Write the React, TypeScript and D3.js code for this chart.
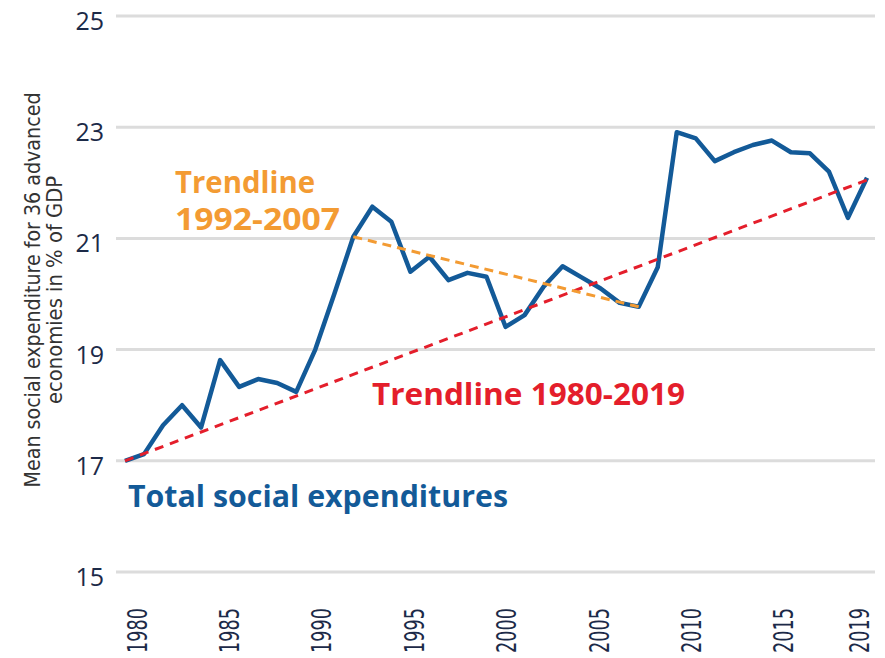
import React from "react";
import * as d3 from "d3";

const years: number[] = d3.range(1980, 2020);
const totalSocial: number[] = [
  17.0, 17.12, 17.64, 18.0, 17.6, 18.81, 18.33, 18.47, 18.4, 18.24,
  19.0, 20.0, 21.03, 21.57, 21.3, 20.4, 20.67, 20.25, 20.38, 20.31,
  19.41, 19.62, 20.13, 20.5, 20.3, 20.1, 19.84, 19.77, 20.48, 22.91,
  22.8, 22.39, 22.55, 22.68, 22.76, 22.55, 22.53, 22.2, 21.37, 22.09,
];
const trendYears1980: number[] = [1980, 2019];
const trendValues1980: number[] = [17.0, 22.05];
const trendYears1992: number[] = [1992, 2007];
const trendValues1992: number[] = [21.03, 19.77];
const yTicks: number[] = [15, 17, 19, 21, 23, 25];
const xTickYears: number[] = [1980, 1985, 1990, 1995, 2000, 2005, 2010, 2015, 2019];
const yTitleLines: string[] = [
  "Mean social expenditure for 36 advanced",
  "economies  in % of GDP",
];

const BLUE = "#135a98";
const RED = "#e41e2b";
const ORANGE = "#f39b33";
const NAVY = "#1c2a48";

export default function App() {
  const W = 885;
  const H = 658;
  const x = d3.scaleLinear().domain([1980, 2019]).range([125, 867]);
  const xLabel = d3.scaleLinear().domain([1980, 2015]).range([137, 783.5]);
  const y = d3.scaleLinear().domain([15, 25]).range([572, 16]);

  const line = d3
    .line<[number, number]>()
    .x((d) => x(d[0]))
    .y((d) => y(d[1]));

  const mainPts: [number, number][] = years.map((yr, i) => [yr, totalSocial[i]]);
  const t1: [number, number][] = trendYears1980.map((yr, i) => [yr, trendValues1980[i]]);
  const t2: [number, number][] = trendYears1992.map((yr, i) => [yr, trendValues1992[i]]);

  const sans = "'Open Sans', 'Noto Sans', 'DejaVu Sans', sans-serif";
  const narrow = "'Liberation Sans Narrow', 'DejaVu Sans Condensed', 'Liberation Sans', sans-serif";

  return (
    <svg
      width={W}
      height={H}
      style={{ position: "absolute", left: 0, top: 0, background: "#fff" }}
    >
      {/* gridlines */}
      {yTicks.map((t) => (
        <line
          key={"g" + t}
          x1={116}
          x2={875}
          y1={y(t)}
          y2={y(t)}
          stroke="#dcdcdc"
          strokeWidth={3}
        />
      ))}
      {/* y tick labels */}
      {yTicks.map((t) => (
        <text
          key={"yl" + t}
          x={104}
          y={y(t) + 14}
          textAnchor="end"
          fontFamily={sans}
          fontSize={25}
          fill={NAVY}
        >
          {t}
        </text>
      ))}
      {/* x tick labels */}
      {xTickYears.map((yr) => (
        <text
          key={"xl" + yr}
          transform={`translate(${yr === 2019 ? xLabel(yr) + 2 : xLabel(yr)},653) rotate(-90)`}
          textAnchor="start"
          dy="0.36em"
          fontFamily={narrow}
          fontSize={27}
          fill={NAVY}
          textLength={45}
          lengthAdjust="spacingAndGlyphs"
        >
          {yr}
        </text>
      ))}
      {/* y title */}
      <g transform="translate(0,290) rotate(-90)">
        <text
          x={0}
          y={40}
          textAnchor="middle"
          fontFamily={narrow}
          fontSize={22}
          fill="#333"
          textLength={395}
          lengthAdjust="spacingAndGlyphs"
        >
          {yTitleLines[0]}
        </text>
        <text
          x={0}
          y={62}
          textAnchor="middle"
          fontFamily={narrow}
          fontSize={22}
          fill="#333"
          textLength={228}
          lengthAdjust="spacingAndGlyphs"
        >
          {yTitleLines[1]}
        </text>
      </g>
      {/* main series */}
      <path
        d={line(mainPts) || ""}
        fill="none"
        stroke={BLUE}
        strokeWidth={4.5}
        strokeLinejoin="round"
      />
      {/* trendlines */}
      <path
        d={line(t1) || ""}
        fill="none"
        stroke={RED}
        strokeWidth={3}
        strokeDasharray="9 7"
      />
      <path
        d={line(t2) || ""}
        fill="none"
        stroke={ORANGE}
        strokeWidth={3}
        strokeDasharray="9 6"
      />
      {/* annotations */}
      <text
        x={175}
        y={193}
        fontFamily={sans}
        fontWeight={700}
        fontSize={30}
        fill={ORANGE}
        textLength={140}
        lengthAdjust="spacingAndGlyphs"
      >
        Trendline
      </text>
      <text
        x={175}
        y={230}
        fontFamily={sans}
        fontWeight={700}
        fontSize={30}
        fill={ORANGE}
        textLength={165}
        lengthAdjust="spacingAndGlyphs"
      >
        1992-2007
      </text>
      <text
        x={372}
        y={405}
        fontFamily={sans}
        fontWeight={700}
        fontSize={30}
        fill={RED}
        textLength={313}
        lengthAdjust="spacingAndGlyphs"
      >
        Trendline 1980-2019
      </text>
      <text
        x={128}
        y={507}
        fontFamily={sans}
        fontWeight={700}
        fontSize={30}
        fill={BLUE}
        textLength={380}
        lengthAdjust="spacingAndGlyphs"
      >
        Total social expenditures
      </text>
    </svg>
  );
}
